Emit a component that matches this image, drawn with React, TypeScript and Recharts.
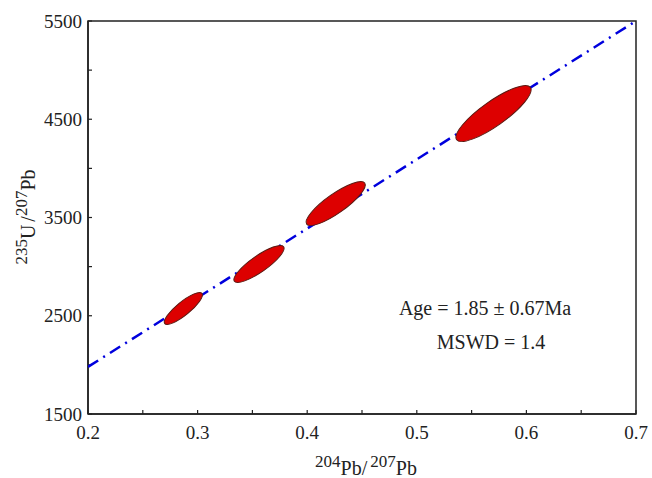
import * as R from "recharts";
import { ReferenceArea, Scatter, ScatterChart, XAxis, YAxis } from "recharts";

// isochron fit line end points
const fitX = [0.2, 0.7];
const fitY = [1980, 5500];

// error ellipses: centre, half extent on each axis, correlation
const ellX = [0.287, 0.356, 0.426, 0.57];
const ellY = [2574, 3027, 3642, 4558];
const ellSx = [0.0174, 0.0229, 0.027, 0.0343];
const ellSy = [163, 188, 224, 285];
const ellRho = [0.85, 0.85, 0.85, 0.85];

const xTicks = [0.2, 0.25, 0.3, 0.35, 0.4, 0.45, 0.5, 0.55, 0.6, 0.65, 0.7];
const xLabels = [0.2, 0.3, 0.4, 0.5, 0.6, 0.7];
const yTicks = [1500, 2000, 2500, 3000, 3500, 4000, 4500, 5000, 5500];
const yLabels = [1500, 2500, 3500, 4500, 5500];

const xDomain = [0.2, 0.7];
const yDomain = [1500, 5500];

const W = 652;
const H = 478;
const margin = { top: 21, right: 16, left: 0, bottom: 0 };
const Y_W = 88;
const X_H = 64;

const fitData = fitX.map((x, i) => ({ x, y: fitY[i] }));
const ellData = ellX.map((x, i) => ({ x, y: ellY[i], sx: ellSx[i], sy: ellSy[i], rho: ellRho[i] }));

const FONT = "'Liberation Serif', 'Times New Roman', serif";
const INK = "#222";

const usePlot: any = (R as any).usePlotArea;

function EllipseShape(props: any) {
  const { cx, cy, payload } = props;
  const plot = usePlot ? usePlot() : null;
  const pw = plot?.width ?? W - margin.left - margin.right - Y_W;
  const ph = plot?.height ?? H - margin.top - margin.bottom - X_H;
  if (cx == null || cy == null) return null;
  const X = (payload.sx * pw) / (xDomain[1] - xDomain[0]);
  const Y = (payload.sy * ph) / (yDomain[1] - yDomain[0]);
  const c = -payload.rho * X * Y;
  const tr = X * X + Y * Y;
  const det = X * X * Y * Y - c * c;
  const disc = Math.sqrt(Math.max(tr * tr / 4 - det, 0));
  const rx = Math.sqrt(tr / 2 + disc);
  const ry = Math.sqrt(Math.max(tr / 2 - disc, 0.5));
  const ang = (0.5 * Math.atan2(2 * c, X * X - Y * Y) * 180) / Math.PI;
  return (
    <ellipse
      cx={cx}
      cy={cy}
      rx={rx}
      ry={ry}
      transform={`rotate(${ang} ${cx} ${cy})`}
      fill="#dd0000"
      stroke="#5a1a12"
      strokeWidth={1}
    />
  );
}

function NoDot() {
  return <g />;
}

export default function App() {
  return (
    <div style={{ position: "absolute", left: 0, top: 0, width: W, height: H, background: "#fff" }}>
      <ScatterChart width={W} height={H} margin={margin}>
        <XAxis
          type="number"
          dataKey="x"
          domain={xDomain}
          ticks={xTicks}
          interval={0}
          allowDataOverflow
          height={X_H}
          tickSize={-4}
          tickMargin={16}
          tickFormatter={(v: number) => (xLabels.includes(v) ? v.toFixed(1) : "")}
          axisLine={{ stroke: INK, strokeWidth: 1.5 }}
          tickLine={{ stroke: INK, strokeWidth: 1.2 }}
          tick={{ fontSize: 19, fill: INK, fontFamily: FONT }}
        />
        <YAxis
          type="number"
          dataKey="y"
          domain={yDomain}
          ticks={yTicks}
          interval={0}
          allowDataOverflow
          width={Y_W}
          tickSize={-4}
          tickMargin={10}
          tickFormatter={(v: number) => (yLabels.includes(v) ? String(v) : "")}
          axisLine={{ stroke: INK, strokeWidth: 1.5 }}
          tickLine={{ stroke: INK, strokeWidth: 1.2 }}
          tick={{ fontSize: 19, fill: INK, fontFamily: FONT }}
        />
        <ReferenceArea
          x1={xDomain[0]}
          x2={xDomain[1]}
          y1={yDomain[0]}
          y2={yDomain[1]}
          fill="none"
          fillOpacity={0}
          stroke={INK}
          strokeWidth={1.5}
        />
        <Scatter
          data={fitData}
          line={{ stroke: "#0000dd", strokeWidth: 2.5, strokeDasharray: "12 6 2 6" }}
          shape={<NoDot />}
          isAnimationActive={false}
        />
        <Scatter data={ellData} shape={<EllipseShape />} isAnimationActive={false} />
        <text x={485} y={315} textAnchor="middle" fontSize={20} fill={INK} fontFamily={FONT}>
          Age = 1.85 ± 0.67Ma
        </text>
        <text x={491} y={349} textAnchor="middle" fontSize={20} fill={INK} fontFamily={FONT}>
          MSWD = 1.4
        </text>
        <text x={366} y={475} textAnchor="middle" fill={INK} fontFamily={FONT}>
          <tspan fontSize={17} dy={-8}>204</tspan>
          <tspan fontSize={20} dy={8}>Pb/</tspan>
          <tspan fontSize={17} dy={-8} dx={3}>207</tspan>
          <tspan fontSize={20} dy={8}>Pb</tspan>
        </text>
        <text
          x={35}
          y={217}
          textAnchor="middle"
          fill={INK}
          fontFamily={FONT}
          transform="rotate(-90 35 217)"
        >
          <tspan fontSize={17} dy={-8}>235</tspan>
          <tspan fontSize={20} dy={8}>U</tspan>
          <tspan fontSize={20} dx={3}>/</tspan>
          <tspan fontSize={17} dy={-8}>207</tspan>
          <tspan fontSize={20} dy={8}>Pb</tspan>
        </text>
      </ScatterChart>
    </div>
  );
}
